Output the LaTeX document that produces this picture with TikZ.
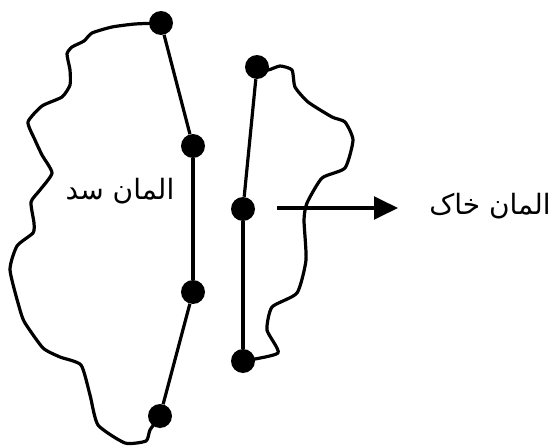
\documentclass[tikz,border=0pt]{standalone}
\usepackage{fontspec}
\usetikzlibrary{arrows.meta}
\TeXXeTstate=1
\newfontfamily\arabicfont[Script=Arabic]{DejaVu Sans}
\tikzset{
  dotnode/.style={circle,fill=black,draw=none,inner sep=0pt,minimum size=18pt},
  chord/.style={line width=2.4pt},
  shore/.style={line width=2.4pt,line join=round,smooth,tension=0.35},
  flow/.style={line width=2.4pt,-{Triangle[length=18pt,width=17pt]}},
  lbl/.style={inner sep=0pt,font=\fontsize{21}{25}\arabicfont}
}
\begin{document}
\begin{tikzpicture}[x=0.75pt,y=-0.75pt]
\useasboundingbox (0,0) rectangle (558,446);
\node[dotnode] (A) at (161,23) {};
\node[dotnode] (B) at (193,146) {};
\node[dotnode] (C) at (193,292) {};
\node[dotnode] (D) at (160,416) {};
\node[dotnode] (E) at (257,67) {};
\node[dotnode] (F) at (243,209) {};
\node[dotnode] (G) at (243,361) {};
\draw[chord] (A) -- (B);
\draw[chord] (B) -- (C);
\draw[chord] (C) -- (D);
\draw[chord] (E) -- (F);
\draw[chord] (F) -- (G);
\draw[shore] plot coordinates {(A.center) (135,24) (112,27) (92,33) (84,41) (72,47) (67,54) (70,70) (70,85) (62,97) (42,106) (28,122) (35,140) (42,155) (52,173) (40,190) (31,202) (34,223) (33,233) (17,246) (10,270) (20,310) (25,323) (43,348) (60,357) (81,365) (90,395) (98,425) (125,443) (146,441) (150,430) (D.center)};
\draw[shore] plot coordinates {(E.center) (268,70) (280,66) (292,70) (295,87) (308,102) (332,117) (345,122) (353,140) (345,168) (322,178) (307,203) (304,220) (306,260) (297,293) (272,307) (267,330) (278,353) (G.center)};
\coordinate (arrowstart) at (277,208);
\coordinate (arrowend) at (398,208);
\draw[flow] (arrowstart) -- (arrowend);
\node[lbl] (leftlabel) at (120,191) {\beginR المان سد\endR};
\node[lbl] (rightlabel) at (490,206) {\beginR المان خاک\endR};
\end{tikzpicture}
\end{document}
